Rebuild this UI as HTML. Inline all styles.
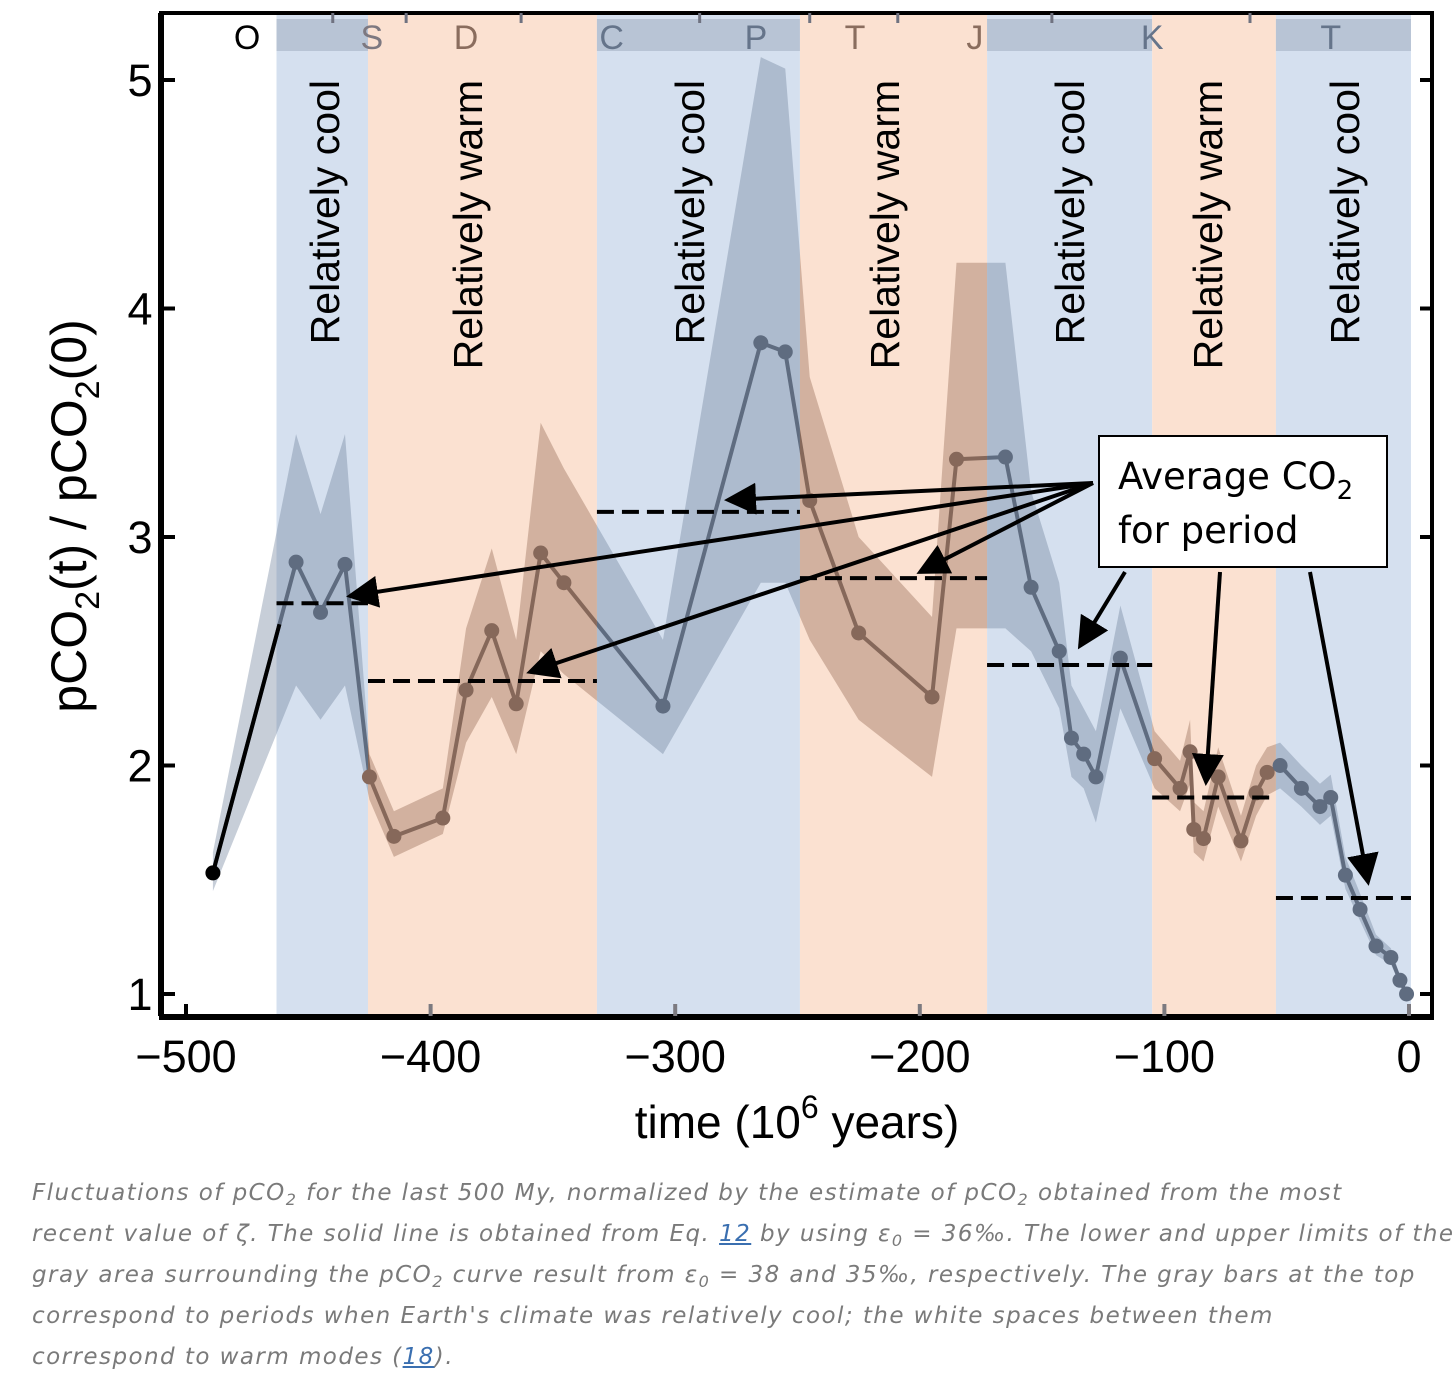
<!DOCTYPE html>
<html><head><meta charset="utf-8"><style>
html,body{margin:0;padding:0;background:#fff;}
body{width:1456px;height:1380px;overflow:hidden;position:relative;font-family:"Liberation Sans",sans-serif;}
#cap{position:absolute;left:32px;top:1173px;width:1424px;font-family:"DejaVu Sans","Liberation Sans",sans-serif;font-style:italic;font-size:23px;line-height:41px;color:#7a7a7a;letter-spacing:1.45px;white-space:nowrap;}
#cap sub{font-size:16px;line-height:0;vertical-align:-5px;}
#cap a{color:#3a6fb0;text-decoration:underline;}
</style></head><body>
<svg id="chart" width="1456" height="1170" style="position:absolute;left:0;top:0">
<defs>
<clipPath id="clipCool"></clipPath>
<clipPath id="clipWarm"></clipPath>
<marker id="ah" markerWidth="8" markerHeight="8" refX="7" refY="4" orient="auto" markerUnits="strokeWidth"><path d="M0,0 L8,4 L0,8 z" fill="#000"/></marker>
</defs>
<g id="bands"></g>
<g id="unc"></g>
<g id="lines"></g>
<g id="avg"></g>
<g id="frame"></g>
<g id="labels"></g>
<g id="callout"></g>
</svg>
<div id="cap">Fluctuations of pCO<sub>2</sub> for the last 500 My, normalized by the estimate of pCO<sub>2</sub> obtained from the most<br>recent value of ζ. The solid line is obtained from Eq. <a>12</a> by using ε<sub>0</sub> = 36‰. The lower and upper limits of the<br>gray area surrounding the pCO<sub>2</sub> curve result from ε<sub>0</sub> = 38 and 35‰, respectively. The gray bars at the top<br>correspond to periods when Earth's climate was relatively cool; the white spaces between them<br>correspond to warm modes (<a>18</a>).</div>
<script>
const times=[-489,-455,-445,-435,-425,-415,-395,-385.5,-375,-365,-355,-345.5,-305,-265,-255,-245,-225,-195,-185,-165,-154.5,-143,-138,-133,-128,-118,-104,-93.6,-89.5,-88,-84,-78,-68.7,-62.5,-58,-52.7,-44,-36.4,-32,-26,-20,-13.5,-7.4,-3.7,-1];
const values=[1.53,2.89,2.67,2.88,1.95,1.69,1.77,2.33,2.59,2.27,2.93,2.80,2.26,3.85,3.81,3.16,2.58,2.30,3.34,3.35,2.78,2.50,2.12,2.05,1.95,2.47,2.03,1.90,2.06,1.72,1.68,1.95,1.67,1.88,1.97,2.00,1.90,1.82,1.86,1.52,1.37,1.21,1.16,1.06,1.00];
const lower=[1.45,2.35,2.2,2.35,1.85,1.6,1.7,2.1,2.3,2.05,2.5,2.4,2.05,2.8,2.8,2.55,2.2,1.95,2.6,2.6,2.5,2.25,1.95,1.9,1.75,2.25,1.9,1.8,1.92,1.62,1.58,1.82,1.58,1.78,1.87,1.9,1.82,1.74,1.78,1.46,1.32,1.17,1.13,1.04,1.0];
const upper=[1.62,3.45,3.1,3.45,2.05,1.8,1.9,2.6,2.95,2.55,3.5,3.3,2.55,5.1,5.05,3.7,3.0,2.65,4.2,4.2,3.2,2.8,2.35,2.25,2.15,2.7,2.15,2.02,2.2,1.84,1.8,2.08,1.78,2.0,2.08,2.1,2.0,1.92,1.96,1.6,1.44,1.26,1.2,1.08,1.0];
const periodStart=[-463,-425.6,-332,-249,-172.5,-105,-54.4];
const periodEnd=[-425.6,-332,-249,-172.5,-105,-54.4,0.8];
const periodType=["cool","warm","cool","warm","cool","warm","cool"];
const periodAvg=[2.71,2.37,3.11,2.82,2.44,1.86,1.42];
const xTicks=[-500,-400,-300,-200,-100,0];
const xTickLabels=["\u2212500","\u2212400","\u2212300","\u2212200","\u2212100","0"];
const yTicks=[1,2,3,4,5];
const geoLetters=["O","S","D","C","P","T","J","K","T"];
const geoTimes=[-475,-424,-385.5,-326,-267,-226.5,-177.5,-105,-32];
const geoColors=["#000","#7d7880","#8a6d5e","#65748a","#65748a","#8a6d5e","#8a6d5e","#65748a","#65748a"];
const geoTicks=[-440,-410,-363,-290,-245,-209,-146,-65];

const NS="http://www.w3.org/2000/svg";
const X=t=>1409+2.446*t;
const Y=v=>994-(v-1)*228.5;
const TOP=13,BOT=1016,L=161,R=1432;
function mk(tag,attrs,parent){const e=document.createElementNS(NS,tag);for(const k in attrs)e.setAttribute(k,attrs[k]);parent.appendChild(e);return e;}
const bands=document.getElementById('bands');
const cc=document.getElementById('clipCool'),cw=document.getElementById('clipWarm');
periodStart.forEach((s,i)=>{
  const x0=X(s),x1=X(periodEnd[i]);
  const r=mk('rect',{x:x0,y:TOP+2,width:x1-x0,height:BOT-TOP-2,fill:periodType[i]=="cool"?"#d5e0ef":"#fbe1d1"},bands);
  
  
  mk('rect',{x:x0,y:0,width:x1-x0+(i==6?30:0),height:1200},periodType[i]=="cool"?cc:cw);
  if(periodType[i]=="cool"){
    const g=mk('rect',{x:x0,y:19,width:x1-x0,height:32,fill:"#b8c4d5"},bands);
    
    
  }
});
mk('rect',{x:0,y:0,width:X(periodStart[0]),height:1200},cc);
const unc=document.getElementById('unc');
let d="M"+times.map((t,i)=>X(t)+","+Y(upper[i])).join(" L")+" L"+times.slice().reverse().map((t,j)=>{const i=times.length-1-j;return X(t)+","+Y(lower[i]);}).join(" L")+"Z";
const u1=mk('path',{d:d,fill:"#6d7f99",opacity:0.38,"clip-path":"url(#clipCool)"},unc);


const u2=mk('path',{d:d,fill:"#a07762",opacity:0.45,"clip-path":"url(#clipWarm)"},unc);


const lines=document.getElementById('lines');
const pd="M"+times.map((t,i)=>X(t)+","+Y(values[i])).join(" L");
const lc=mk('path',{d:pd,fill:"none",stroke:"#5f6c80","stroke-width":4,"stroke-linejoin":"round","clip-path":"url(#clipCool)"},lines);


const lw=mk('path',{d:pd,fill:"none",stroke:"#86685a","stroke-width":4,"stroke-linejoin":"round","clip-path":"url(#clipWarm)"},lines);


const l0=mk('line',{x1:X(times[0]),y1:Y(values[0]),x2:X(times[0])+(X(times[1])-X(times[0]))*0.8,y2:Y(values[0])+(Y(values[1])-Y(values[0]))*0.8,stroke:"#000","stroke-width":4},lines);


times.forEach((t,i)=>{
  let col="#5f6c80";
  if(i==0)col="#000";
  else periodStart.forEach((s,k)=>{if(t>=s&&t<periodEnd[k]&&periodType[k]=="warm")col="#86685a";});
  const c=mk('circle',{cx:X(t),cy:Y(values[i]),r:7.5,fill:col},lines);
  
  
});
const avg=document.getElementById('avg');
periodAvg.forEach((v,i)=>{
  const a=mk('line',{x1:X(periodStart[i]),x2:X(periodEnd[i]),y1:Y(v),y2:Y(v),stroke:"#000","stroke-width":4,"stroke-dasharray":"17,8"},avg);
  
  
});
const fr=document.getElementById('frame');
mk('path',{d:`M${L},${BOT} L${L},${TOP} L${R},${TOP} L${R},${BOT} Z`,fill:"none",stroke:"#000","stroke-width":4},fr);
mk('line',{x1:L-2,x2:R+2,y1:BOT+1,y2:BOT+1,stroke:"#000","stroke-width":6},fr);
mk('line',{x1:L,x2:L,y1:TOP,y2:BOT,stroke:"#000","stroke-width":6},fr);
xTicks.forEach((t,i)=>{
  mk('line',{x1:X(t),x2:X(t),y1:BOT,y2:BOT-12,stroke:i==0?"#000":"#7c7a80","stroke-width":4},fr);
  const tx=mk('text',{x:X(t),y:1072,"text-anchor":"middle","font-size":45,fill:"#000"},fr);
  tx.textContent=xTickLabels[i];
  
  
});
yTicks.forEach(v=>{
  mk('line',{x1:L,x2:L+14,y1:Y(v),y2:Y(v),stroke:"#000","stroke-width":4},fr);
  mk('line',{x1:R,x2:R-12,y1:Y(v),y2:Y(v),stroke:"#000","stroke-width":4},fr);
  const tx=mk('text',{x:140,y:Y(v)+16,"text-anchor":"middle","font-size":45,fill:"#000"},fr);
  tx.textContent=v;
  
  
});
geoTicks.forEach(t=>mk('line',{x1:X(t),x2:X(t),y1:TOP,y2:TOP+10,stroke:"#6f7280","stroke-width":3},fr));
const lab=document.getElementById('labels');
geoLetters.forEach((g,i)=>{
  const tx=mk('text',{x:X(geoTimes[i]),y:49,"text-anchor":"middle","font-size":34,fill:geoColors[i]},lab);
  tx.textContent=g;
  
  
});
const labX=[325,468,690,885,1070,1208,1345];
periodStart.forEach((s,i)=>{
  const cx=labX[i];
  const tx=mk('text',{x:0,y:0,transform:`translate(${cx+14},80) rotate(-90)`,"text-anchor":"end","font-size":41,fill:"#000"},lab);
  tx.textContent="Relatively "+periodType[i];
  
  
});
const yt=mk('text',{x:0,y:0,transform:"translate(86,516) rotate(-90)","text-anchor":"middle","font-size":50,fill:"#000"},lab);
yt.innerHTML='pCO<tspan font-size="34" dy="13">2</tspan><tspan dy="-13">(t) / pCO</tspan><tspan font-size="34" dy="13">2</tspan><tspan dy="-13">(0)</tspan>';


const xt=mk('text',{x:797,y:1138,"text-anchor":"middle","font-size":46,fill:"#000"},lab);
xt.innerHTML='time (10<tspan font-size="32" dy="-20">6</tspan><tspan dy="20"> years)</tspan>';


const co=document.getElementById('callout');
const arrows=[[1093,483,728,500],[1093,483,350,596],[1093,483,530,672],[1093,483,920,572],[1125,572,1080,646],[1220,572,1206,782],[1310,572,1368,882]];
arrows.forEach(a=>{
  const l=mk('line',{x1:a[0],y1:a[1],x2:a[2],y2:a[3],stroke:"#000","stroke-width":4,"marker-end":"url(#ah)"},co);
  
  
});
const box=mk('rect',{x:1099,y:436,width:288,height:131,fill:"#fff",stroke:"#000","stroke-width":2},co);


const t1=mk('text',{x:1118,y:489,"font-size":37,fill:"#000","font-family":"DejaVu Sans, Liberation Sans, sans-serif"},co);
t1.innerHTML='Average CO<tspan font-size="26" dy="10">2</tspan>';


const t2=mk('text',{x:1118,y:543,"font-size":37,fill:"#000","font-family":"DejaVu Sans, Liberation Sans, sans-serif"},co);
t2.textContent='for period';


</script>
</body></html>
